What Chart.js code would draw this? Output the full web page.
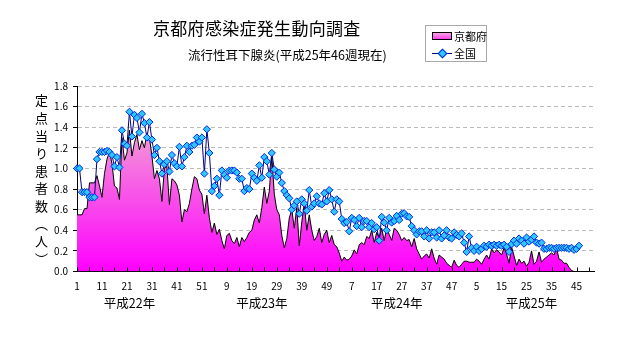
<!DOCTYPE html>
<html>
<head>
<meta charset="utf-8">
<script src="https://cdn.jsdelivr.net/npm/chart.js@4/dist/chart.umd.min.js"></script>
<style>
  body { margin: 0; background: #fff; }
  #wrap { position: relative; width: 632px; height: 348px; font-family: "Noto Sans CJK JP", sans-serif; color: #000; }
  #c { position: absolute; left: 0; top: 0; }
  .title { position: absolute; left: 153px; top: 19px; font-size: 17px; line-height: 18px; letter-spacing: 0.3px; white-space: nowrap; }
  .subtitle { position: absolute; left: 188px; top: 48px; font-size: 12.5px; line-height: 14px; white-space: nowrap; }
  .ytitle { position: absolute; left: 34px; top: 94px; writing-mode: vertical-rl; font-size: 13px; line-height: 14px; letter-spacing: 4.6px; }
  .legend { position: absolute; left: 425px; top: 25px; width: 60px; height: 35px; border: 1px solid #a8a8a8; font-size: 11px; line-height: 12px; }
  .legend .row { position: absolute; left: 6px; height: 12px; white-space: nowrap; }
  .legend .sw { position: absolute; left: 0; top: 2px; width: 18px; height: 6px; border: 1px solid #000; background: linear-gradient(#f6a6dd, #ff40f0); }
  .legend .ln { position: absolute; left: 0; top: 6px; width: 20px; height: 1px; background: #000080; }
  .legend .dm { position: absolute; left: 7px; top: 3px; width: 5px; height: 5px; background: #2ec8ff; border: 1px solid #0028e0; transform: rotate(45deg); }
  .legend .tx { position: absolute; left: 22px; top: 0; }
</style>
</head>
<body>
<div id="wrap">
  <canvas id="c" width="632" height="348"></canvas>
  <div class="title">京都府感染症発生動向調査</div>
  <div class="subtitle">流行性耳下腺炎(平成25年46週現在)</div>
  <div class="ytitle">定点当り患者数（人）</div>
  <div class="legend">
    <div class="row" style="top:4px"><span class="sw"></span><span class="tx">京都府</span></div>
    <div class="row" style="top:21px"><span class="ln"></span><span class="dm"></span><span class="tx">全国</span></div>
  </div>
</div>
<script>
// --- DATA ---
const yearNames = ['平成22年', '平成23年', '平成24年', '平成25年'];
const weeksPerYear = 52;
const seriesNames = ['京都府', '全国'];

// 京都府 per-sentinel counts, H22 wk1 .. H25 wk46
const kyoto = [
  0.55,0.55,0.55,0.61,0.61,0.86,0.86,0.86,0.93,0.83,
  0.72,0.95,1.09,1.16,1.05,0.83,0.81,0.70,1.30,1.08,
  1.15,1.37,1.12,1.25,1.33,1.18,1.27,1.20,1.34,1.30,
  1.12,0.90,0.98,0.90,0.68,1.00,1.02,0.65,0.90,0.88,
  0.84,0.74,0.48,0.60,0.58,0.66,0.80,0.92,0.90,0.79,
  0.75,0.56,0.74,0.52,0.38,0.47,0.36,0.41,0.30,0.22,
  0.35,0.37,0.30,0.27,0.33,0.24,0.33,0.29,0.33,0.38,
  0.40,0.50,0.55,0.47,0.62,0.82,0.66,0.78,1.12,0.75,
  0.60,0.55,0.35,0.23,0.32,0.52,0.60,0.42,0.62,0.25,
  0.48,0.66,0.40,0.55,0.40,0.30,0.34,0.42,0.28,0.36,
  0.40,0.28,0.35,0.26,0.24,0.18,0.10,0.14,0.11,0.12,
  0.15,0.21,0.17,0.26,0.28,0.26,0.34,0.32,0.40,0.28,
  0.38,0.33,0.42,0.30,0.42,0.36,0.30,0.42,0.40,0.36,
  0.30,0.33,0.30,0.31,0.24,0.32,0.22,0.17,0.12,0.15,
  0.17,0.13,0.22,0.13,0.07,0.16,0.14,0.12,0.08,0.06,
  0.04,0.11,0.06,0.04,0.07,0.10,0.10,0.09,0.09,0.09,
  0.12,0.10,0.07,0.12,0.16,0.12,0.22,0.18,0.21,0.19,
  0.16,0.23,0.17,0.08,0.24,0.15,0.06,0.12,0.08,0.10,
  0.05,0.09,0.20,0.07,0.10,0.19,0.09,0.12,0.14,0.16,
  0.18,0.16,0.23,0.12,0.11,0.08,0.08,0.04,0.01,0.00,
  0.00,0.00
];

// 全国
const zenkoku = [
  1.00,1.00,0.77,0.77,0.77,0.72,0.72,0.72,1.09,1.16,
  1.16,1.16,1.17,1.16,1.13,1.02,1.11,1.01,1.37,1.24,
  1.22,1.55,1.31,1.52,1.49,1.35,1.53,1.44,1.30,1.45,
  1.28,1.13,1.20,1.07,0.95,1.04,1.07,0.97,1.13,1.05,
  1.02,1.21,1.02,1.11,1.22,1.16,1.22,1.23,1.30,1.26,
  1.30,0.95,1.38,1.15,0.78,0.83,0.90,0.74,0.98,0.94,
  0.91,0.98,0.98,0.98,0.96,0.90,0.90,0.78,0.81,0.80,
  0.95,0.91,0.88,1.03,0.91,1.11,1.07,0.94,1.15,0.99,
  0.92,0.96,0.86,0.78,0.74,0.71,0.60,0.64,0.68,0.56,
  0.70,0.66,0.59,0.79,0.63,0.66,0.73,0.66,0.65,0.76,
  0.68,0.79,0.70,0.58,0.70,0.68,0.51,0.47,0.48,0.39,
  0.52,0.50,0.44,0.52,0.43,0.49,0.49,0.43,0.47,0.41,
  0.43,0.30,0.53,0.475,0.40,0.52,0.475,0.49,0.54,0.50,
  0.56,0.565,0.535,0.53,0.44,0.40,0.36,0.39,0.39,0.34,
  0.40,0.32,0.38,0.38,0.33,0.40,0.32,0.35,0.40,0.33,
  0.32,0.38,0.355,0.34,0.37,0.28,0.19,0.34,0.23,0.20,
  0.24,0.20,0.22,0.25,0.24,0.26,0.25,0.26,0.25,0.26,
  0.25,0.26,0.24,0.19,0.265,0.30,0.27,0.32,0.30,0.27,
  0.33,0.29,0.31,0.34,0.28,0.27,0.28,0.22,0.22,0.23,
  0.23,0.22,0.23,0.23,0.23,0.23,0.23,0.22,0.23,0.21,
  0.22,0.25
];

// categories: every week of the four years (axis runs past the last data point)
const weeks = [];
yearNames.forEach(() => { for (let w = 1; w <= weeksPerYear; w++) weeks.push(String(w)); });

// where the year caption sits under the axis (category index)
const yearLabelAt = { 21: 0, 74: 1, 128: 2, 182: 3 };

const FONT = '"Noto Sans CJK JP", sans-serif';

// --- PLUGINS ---
const innerTicks = {
  id: 'innerTicks',
  afterDatasetsDraw(chart) {
    const { ctx, chartArea, scales: { x } } = chart;
    ctx.save();
    ctx.strokeStyle = '#000';
    ctx.lineWidth = 1;
    ctx.beginPath();
    for (let i = 0; i < weeks.length; i += 5) {
      const px = Math.round(x.getPixelForValue(i)) + 0.5;
      ctx.moveTo(px, chartArea.bottom);
      ctx.lineTo(px, chartArea.bottom - 4);
    }
    ctx.stroke();
    ctx.restore();
  }
};

new Chart(document.getElementById('c'), {
  type: 'line',
  data: {
    labels: weeks,
    datasets: [
      {
        label: seriesNames[1], data: zenkoku, order: 0,
        borderColor: '#000080', borderWidth: 1, tension: 0, fill: false, clip: false,
        pointStyle: 'rectRot', pointRadius: 3.6, pointBackgroundColor: '#2ec8ff',
        pointBorderColor: '#0028e0', pointBorderWidth: 1
      },
      {
        label: seriesNames[0], data: kyoto, order: 1,
        borderColor: '#000', borderWidth: 1, tension: 0, pointRadius: 0, fill: 'origin',
        backgroundColor: (c) => {
          const { ctx, chartArea, scales } = c.chart;
          if (!chartArea) return '#f6a6dd';
          const top = scales.y.getPixelForValue(Math.max(...kyoto));
          const g = ctx.createLinearGradient(0, top, 0, chartArea.bottom);
          g.addColorStop(0, '#f29ad6');
          g.addColorStop(1, '#ff00ff');
          return g;
        }
      }
    ]
  },
  options: {
    responsive: false,
    animation: false,
    devicePixelRatio: 1,
    layout: { padding: { top: 86, right: 38, left: 0, bottom: 0 } },
    plugins: { legend: { display: false }, tooltip: { enabled: false } },
    scales: {
      x: {
        offset: false,
        grid: { display: false, drawTicks: false },
        border: { display: true, color: '#000', width: 1 },
        afterFit: (s) => { s.height = 76.5; },
        ticks: {
          autoSkip: false, maxRotation: 0, minRotation: 0, padding: 9, color: '#000',
          font: (c) => ({ family: FONT, size: (c.index in yearLabelAt) ? 12.5 : 10 }),
          callback: (v, i) => {
            if (i in yearLabelAt) return ['', yearNames[yearLabelAt[i]]];
            return i % 10 === 0 ? weeks[i] : '';
          }
        }
      },
      y: {
        min: 0, max: 1.8,
        afterFit: (s) => { s.width = 77; },
        grid: { color: '#bcbcbc', lineWidth: 1, tickLength: 4, tickColor: '#000', tickBorderDash: [] },
        border: { display: true, color: '#000', width: 1, dash: [4, 3] },
        ticks: { stepSize: 0.2, padding: 5, color: '#000', font: { family: FONT, size: 10 }, callback: (v) => v.toFixed(1) }
      }
    }
  },
  plugins: [innerTicks]
});
</script>
</body>
</html>
